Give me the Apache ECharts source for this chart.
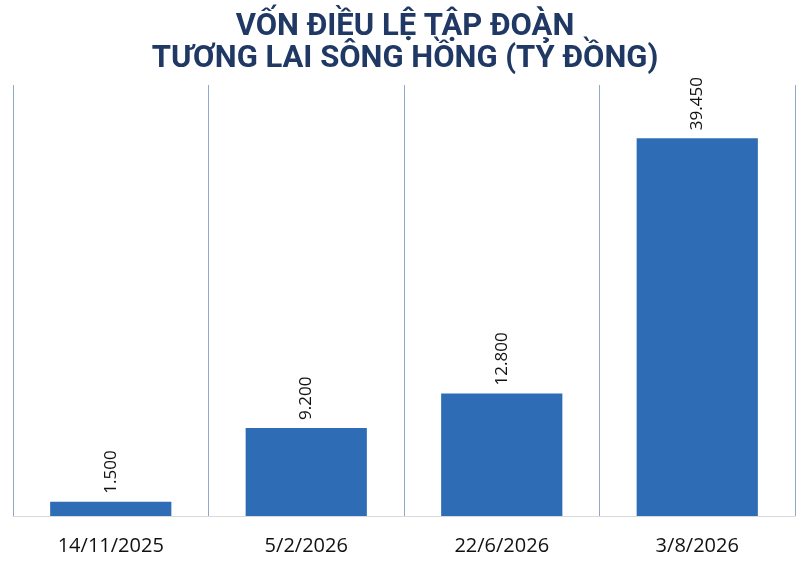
<!DOCTYPE html>
<html><head><meta charset="utf-8">
<script src="https://cdn.jsdelivr.net/npm/echarts@6/dist/echarts.min.js"></script>
<style>html,body{margin:0;padding:0;background:#fff}#c{width:810px;height:568px}</style>
</head><body><div id="c"></div>
<script>
const titleText = 'VỐN ĐIỀU LỆ TẬP ĐOÀN\nTƯƠNG LAI SÔNG HỒNG (TỶ ĐỒNG)';
const categories = ['14/11/2025', '5/2/2026', '22/6/2026', '3/8/2026'];
const capital = [1500, 9200, 12800, 39450];

const chart = echarts.init(document.getElementById('c'));
chart.setOption({
  animation: false,
  backgroundColor: '#ffffff',
  title: {
    text: titleText, left: 'center', top: 6,
    textStyle: { fontFamily: 'Roboto', fontWeight: 'bold', fontSize: 31, lineHeight: 32, color: '#1F3864' }
  },
  grid: { left: 13, right: 15, top: 85, bottom: 52 },
  xAxis: {
    type: 'category', data: categories,
    axisLine: { lineStyle: { color: '#D9D9D9', width: 1 } },
    axisTick: { show: false },
    axisLabel: { fontFamily: 'Open Sans', fontSize: 20, color: '#111111', margin: 20 },
    splitLine: { show: true, lineStyle: { color: '#8EA9C9', width: 1 } }
  },
  yAxis: { type: 'value', min: 0, max: 45000, show: false, splitLine: { show: false } },
  series: [{
    type: 'bar', data: capital, barWidth: '62%',
    itemStyle: { color: '#2E6DB5' },
    label: {
      show: true, position: 'top', rotate: 90, align: 'left', verticalAlign: 'middle', distance: 8,
      fontFamily: 'Open Sans', fontSize: 17, color: '#111111',
      formatter: p => p.value.toLocaleString('de-DE')
    }
  }]
});
</script></body></html>
